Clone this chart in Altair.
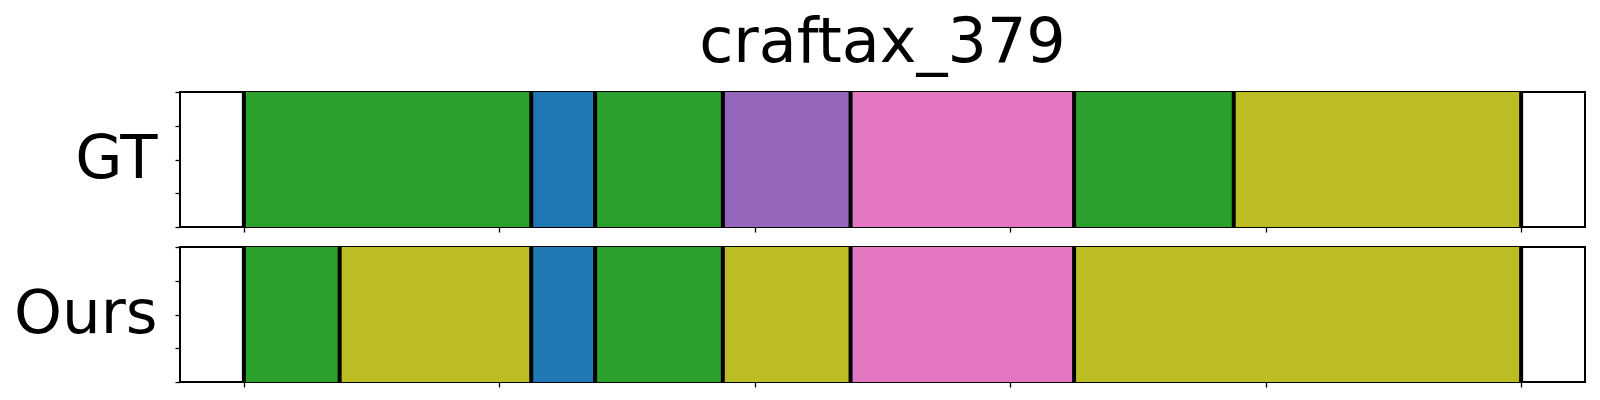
import altair as alt
import pandas as pd

title_text = "craftax_379"
row_names = ["GT", "Ours"]
x_ticks = [0, 200, 400, 600, 800, 1000]
y_ticks = [0, 0.25, 0.5, 0.75, 1.0]

gt_starts = [0, 225, 275, 375, 475, 650, 775]
gt_ends = [225, 275, 375, 475, 650, 775, 1000]
gt_classes = ["c2", "c0", "c2", "c4", "c6", "c2", "c8"]

ours_starts = [0, 75, 225, 275, 375, 475, 650]
ours_ends = [75, 225, 275, 375, 475, 650, 1000]
ours_classes = ["c2", "c8", "c0", "c2", "c8", "c6", "c8"]

class_domain = ["c0", "c2", "c4", "c6", "c8"]
class_colors = ["#1f77b4", "#2ca02c", "#9467bd", "#e377c2", "#bcbd22"]

FONT = "DejaVu Sans"


def panel(name, starts, ends, classes, title=None):
    seg = pd.DataFrame({"start": starts, "end": ends, "cls": classes,
                        "y0": [0.0] * len(starts), "y1": [1.0] * len(starts)})
    bounds = pd.DataFrame({"b": sorted(set(starts) | set(ends))})
    xs = alt.Scale(domain=[-50, 1050], nice=False, zero=False)
    ys = alt.Scale(domain=[0, 1], nice=False, zero=False)
    x_axis = alt.Axis(values=x_ticks, labels=False, title=None, domain=False,
                      ticks=True, tickSize=5, tickColor="black", tickWidth=1.3,
                      grid=False)
    y_axis = alt.Axis(values=y_ticks, labels=False, domain=False, grid=False,
                      ticks=True, tickSize=5, tickColor="black", tickWidth=1.3,
                      title=name, titleAngle=0, titleAlign="right",
                      titleBaseline="alphabetic", titleX=-23, titleY=85,
                      titleFontSize=61, titleFont=FONT, titleFontWeight="normal",
                      titleColor="black")
    bars = alt.Chart(seg).mark_rect().encode(
        x=alt.X("start:Q", scale=xs, axis=x_axis),
        x2="end:Q",
        y=alt.Y("y0:Q", scale=ys, axis=y_axis),
        y2="y1:Q",
        color=alt.Color("cls:N", scale=alt.Scale(domain=class_domain, range=class_colors),
                        legend=None),
    )
    rules = alt.Chart(bounds).mark_rule(color="black", strokeWidth=4).encode(
        x=alt.X("b:Q", scale=xs)
    )
    props = dict(width=1405, height=135)
    if title is not None:
        props["title"] = alt.TitleParams(title, fontSize=62, font=FONT,
                                         fontWeight="normal", anchor="middle",
                                         frame="group", color="black", offset=15)
    return alt.layer(bars, rules).properties(**props)


top = panel(row_names[0], gt_starts, gt_ends, gt_classes, title=title_text)
bottom = panel(row_names[1], ours_starts, ours_ends, ours_classes)

chart = alt.vconcat(top, bottom, spacing=10).configure_view(
    stroke="black", strokeWidth=2
).properties(padding={"left": 4, "top": 3, "right": 0, "bottom": 0}, background="white")

chart.save("out.html", embed_options={"renderer": "svg", "actions": False})
